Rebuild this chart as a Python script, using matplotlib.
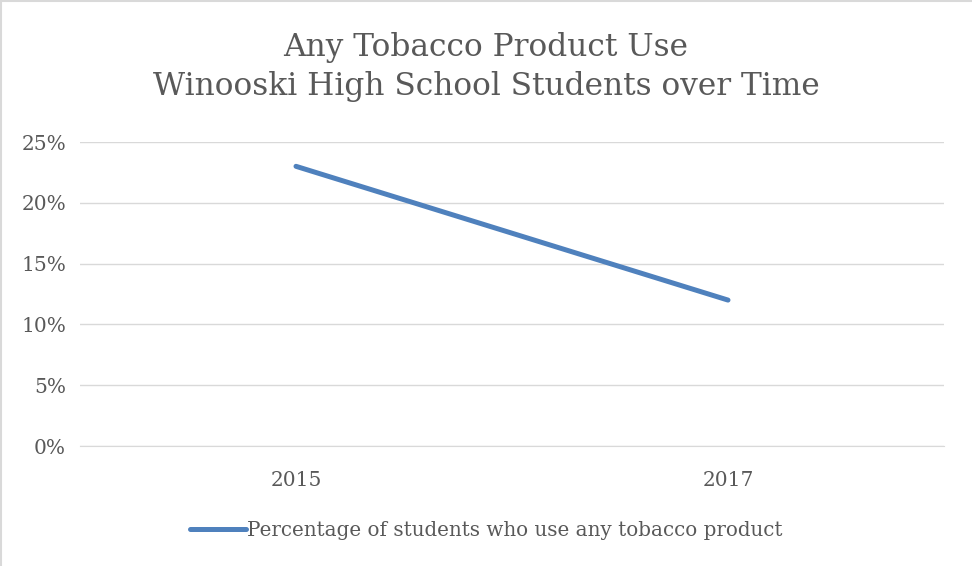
import matplotlib.pyplot as plt
from matplotlib.lines import Line2D

years = ['2015', '2017']
pct_tobacco = [23, 12]
y_ticks = [0, 5, 10, 15, 20, 25]
series_name = 'Percentage of students who use any tobacco product'
title = 'Any Tobacco Product Use\nWinooski High School Students over Time'

text_col = '#595959'
grid_col = '#d9d9d9'
line_col = '#4f81bd'
plt.rcParams['font.family'] = ['DejaVu Serif']

fig = plt.figure(figsize=(9.72, 5.66), dpi=100)
ax = fig.add_axes([80 / 972, 120 / 566, 864 / 972, 304 / 566])

x = range(len(years))
ax.plot(x, pct_tobacco, color=line_col, lw=3.6, solid_capstyle='round')
ax.set_xlim(-0.5, len(years) - 0.5)
ax.set_ylim(0, 25)
ax.set_xticks(list(x))
ax.set_xticklabels(years)
ax.set_yticks(y_ticks)
ax.set_yticklabels([f'{t}%' for t in y_ticks])
ax.grid(axis='y', color=grid_col, lw=1)
ax.set_axisbelow(True)
for s in ['top', 'right', 'left']:
    ax.spines[s].set_visible(False)
ax.spines['bottom'].set_color(grid_col)
ax.tick_params(length=0, labelsize=14.5, colors=text_col)
ax.tick_params(axis='y', pad=10)
ax.tick_params(axis='x', pad=18)

fig.text(0.5, 1 - 67 / 566, title, ha='center', va='center', fontsize=22.5,
         color=text_col, linespacing=1.3)

leg = fig.legend([Line2D([], [], color=line_col, lw=3.6, solid_capstyle='round')],
                 [series_name], loc='center', bbox_to_anchor=(0.5, 1 - 530 / 566),
                 frameon=False, fontsize=14.3, handlelength=2.8, handletextpad=0.05)
for t in leg.get_texts():
    t.set_color(text_col)

# thin chart-area border on left and top edges
fig.add_artist(Line2D([0.001, 0.001], [0, 1], color='#d9d9d9', lw=1.5, transform=fig.transFigure))
fig.add_artist(Line2D([0, 1], [0.999, 0.999], color='#d9d9d9', lw=1.5, transform=fig.transFigure))

fig.savefig('out.png', dpi=100)
